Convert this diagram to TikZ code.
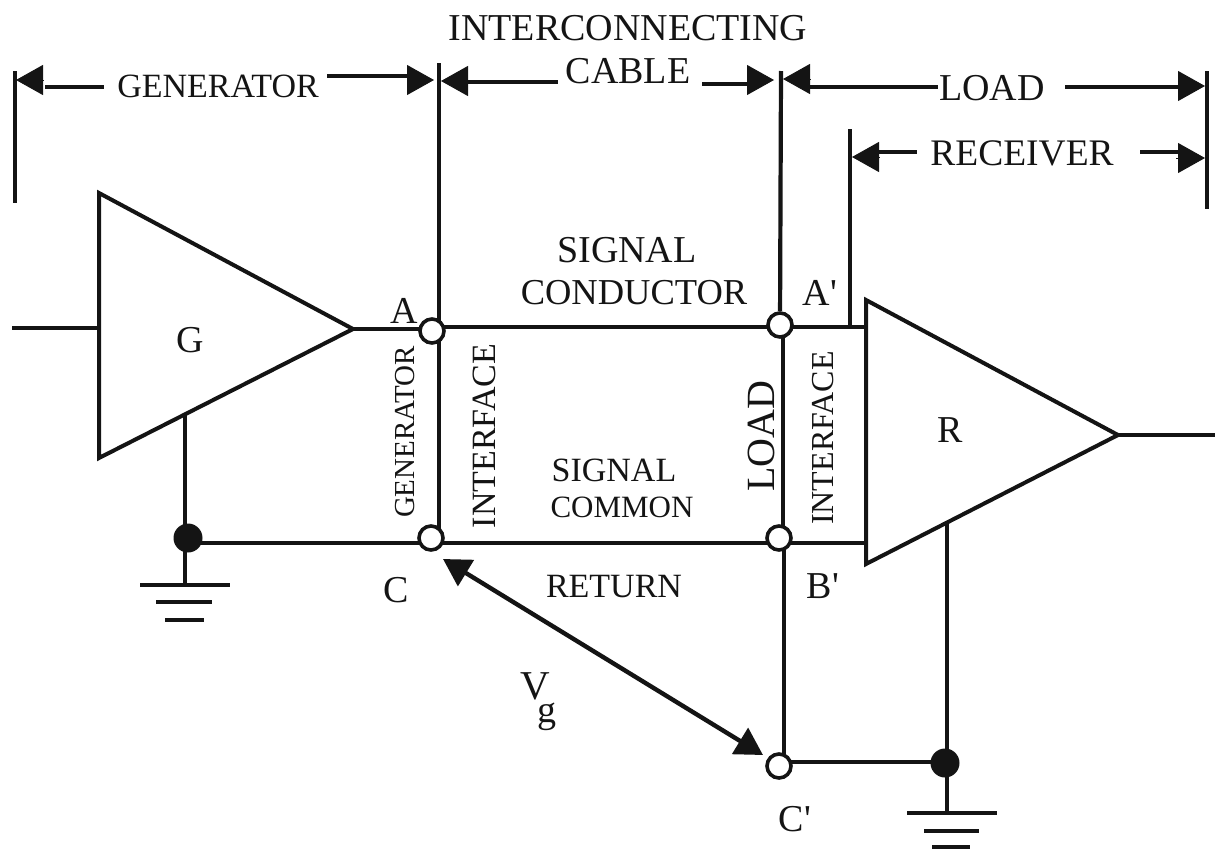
\documentclass[tikz,border=0pt]{standalone}
\usepackage{fontspec}
\setmainfont{Liberation Serif}
\usetikzlibrary{arrows.meta}
\pgfdeclarelayer{bg}
\pgfsetlayers{bg,main}
\definecolor{ink}{gray}{0.08}
\newcommand{\fs}[1]{\fontsize{#1pt}{#1pt}\selectfont}
\tikzset{
 wire/.style={line width=3.6pt,draw=ink},
 tri/.style={line width=4pt,draw=ink,line join=miter},
 dimline/.style={line width=3.6pt,draw=ink},
 dimhead/.style={line width=1pt,draw=ink,fill=ink,-{Triangle[length=27pt,width=30pt]}},
 vline/.style={line width=4.2pt,draw=ink},
 term/.style={circle,draw=ink,line width=3.6pt,fill=white,minimum size=24pt,inner sep=0pt},
 dotn/.style={circle,fill=ink,minimum size=29pt,inner sep=0pt},
 lab/.style={text=ink,inner sep=0pt,align=center},
 labv/.style={lab,rotate=90},
}
\begin{document}
\begin{tikzpicture}[x=1pt,y=-1pt]
\useasboundingbox (0,0) rectangle (1215,849);
% terminals and junction dots
\node[term] (A) at (432,331) {};
\node[term] (C) at (431,538) {};
\node[term] (Ap) at (780,325) {};
\node[term] (Bp) at (779,538) {};
\node[term] (Cp) at (779,766) {};
\node[dotn] (d1) at (188,538) {};
\node[dotn] (d2) at (945,763) {};
% named free ends
\coordinate (tl) at (15,71); \coordinate (tlb) at (15,203);
\coordinate (a1t) at (439,63);
\coordinate (a2t) at (781,71);
\coordinate (rt) at (850,129); \coordinate (rb) at (850,328);
\coordinate (et) at (1207,71); \coordinate (eb) at (1207,209);
\coordinate (gt) at (99,193); \coordinate (gb) at (99,458); \coordinate (gp) at (353,329);
\coordinate (rt1) at (866,300); \coordinate (rb1) at (866,564); \coordinate (rp) at (1118,435);
\coordinate (inG) at (12,328); \coordinate (outR) at (1215,435);
\coordinate (gs) at (185,415); \coordinate (g1) at (185,585);
\coordinate (rs) at (947,522); \coordinate (g2) at (947,813);
\coordinate (wt) at (0,327); \coordinate (wb) at (0,543); \coordinate (wc) at (0,762);
\coordinate (vgs) at (443,559); \coordinate (vge) at (763,755);
\begin{pgfonlayer}{bg}
\draw[vline] (tl) -- (tlb);
\draw[vline] (et) -- (eb);
\draw[vline] (rt) -- (rb);
\draw[vline] (a1t) -- (a1t |- C);
\draw[vline] (a2t) -- (Ap);
\draw[vline] (783,325) -- (783,538);
\draw[vline] (784,538) -- (784,766);
\draw[wire] (inG) -- (gt |- inG);
\draw[wire] (rp) -- (outR);
\draw[wire] (gp) -- (gp -| A);
\draw[wire] (A |- wt) -- (Ap |- wt);
\draw[wire] (Ap |- wt) -- (rt1 |- wt);
\draw[wire] (d1 |- wb) -- (C |- wb);
\draw[wire] (C |- wb) -- (Bp |- wb);
\draw[wire] (Bp |- wb) -- (rb1 |- wb);
\draw[wire] (Cp |- wc) -- (d2 |- wc);
\draw[vline] (gs) -- (g1);
\draw[vline] (rs) -- (g2);
\end{pgfonlayer}
% triangles
\draw[tri] (gt) -- (gp) -- (gb) -- cycle;
\draw[tri] (rt1) -- (rp) -- (rb1) -- cycle;
% grounds
\draw[wire] (140,585) -- (230,585); \draw[wire] (156,602) -- (212,602); \draw[wire] (165,620) -- (204,620);
\draw[wire] (907,813) -- (997,813); \draw[wire] (924,831) -- (979,831); \draw[wire] (932,847) -- (970,847);
% Vg arrow
\draw[line width=4.4pt,draw=ink,{Triangle[length=27pt,width=30pt]}-{Triangle[length=27pt,width=30pt]}] (vgs) -- (vge);
% dimension arrows
\draw[dimline] (45,87) -- (104,87);   \draw[dimhead] (43,80) -- (16,80);
\draw[dimline] (327,76) -- (409,76);  \draw[dimhead] (407,80) -- (434,80);
\draw[dimline] (466,82) -- (558,82);  \draw[dimhead] (468,81) -- (441,81);
\draw[dimline] (702,84) -- (749,84);  \draw[dimhead] (747,80) -- (774,80);
\draw[dimline] (808,87) -- (938,87);  \draw[dimhead] (810,79) -- (783,79);
\draw[dimline] (1065,87) -- (1180,87);\draw[dimhead] (1178,86) -- (1205,86);
\draw[dimline] (877,152) -- (917,152);\draw[dimhead] (879,157) -- (852,157);
\draw[dimline] (1140,152) -- (1178,152);\draw[dimhead] (1176,158) -- (1205,158);
% labels
\node[lab,font=\fs{34}] (tgen) at (218,86) {GENERATOR};
\node[lab,font=\fs{38}] (tint) at (628,28) {INTERCONNECTING};
\node[lab,font=\fs{38}] (tcab) at (628,71) {CABLE};
\node[lab,font=\fs{38}] (tload) at (992,88) {LOAD};
\node[lab,font=\fs{37.5}] (trec) at (1022,153) {RECEIVER};
\node[lab,font=\fs{38}] (sig1) at (627,250) {SIGNAL};
\node[lab,font=\fs{36.5}] (cond) at (634,293) {CONDUCTOR};
\node[lab,font=\fs{34}] (sig2) at (614,470) {SIGNAL};
\node[lab,font=\fs{31}] (comm) at (622,507) {COMMON};
\node[lab,font=\fs{34}] (ret) at (614,587) {RETURN};
\node[lab,font=\fs{38}] (lG) at (190,340) {G};
\node[lab,font=\fs{38}] (lR) at (950,430) {R};
\node[lab,font=\fs{38}] (lA) at (404,311) {A};
\node[lab,font=\fs{38}] (lAp) at (820,293) {A\textquotesingle};
\node[lab,font=\fs{38}] (lC) at (396,590) {C};
\node[lab,font=\fs{38}] (lBp) at (823,586) {B\textquotesingle};
\node[lab,font=\fs{38}] (lCp) at (795,819) {C\textquotesingle};
\node[lab,font=\fs{41}] (lV) at (535,686) {V};
\node[lab,font=\fs{38}] (lg) at (547,717) {g};
\node[labv,font=\fs{29}] (vgen) at (405,432) {GENERATOR};
\node[labv,font=\fs{34}] (vint1) at (484,436) {INTERFACE};
\node[labv,font=\fs{40}] (vload) at (761,436) {LOAD};
\node[labv,font=\fs{32}] (vint2) at (823,438) {INTERFACE};
\end{tikzpicture}
\end{document}
